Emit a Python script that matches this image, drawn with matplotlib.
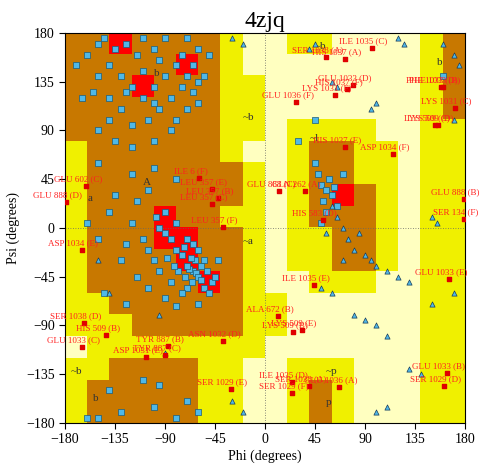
import matplotlib
matplotlib.use("Agg")
import matplotlib.pyplot as plt
import numpy as np
from matplotlib.colors import ListedColormap

# Region map: 20-degree cells, rows from psi=180 down to -180, cols phi -180..180
region_rows = [
    "BBRBBBBYPPYYPPPPYB",
    "BBBBBRBYPPPPPPPPYB",
    "BBBRBBBYYPPPPPPPYB",
    "BBBBBBBYYPPPPPPPYB",
    "BBBBBBBYYPYYYYPPYY",
    "YBBBBBBYPPYBBYYPYY",
    "YBBBBBBBYPYBBYYPYY",
    "YBBBBBBBYPYBRBYPYY",
    "YBBBRBBYYPYBBBYPYY",
    "YBBBRRBBYPYYBBYPYY",
    "YBBBBRBBYPYYBBYPYY",
    "YBBBBBRBYPPYYYPPYY",
    "YYBBBBBBYYPPPPPPYY",
    "YYYBBBBBYYPPPPPPYY",
    "PYYYYYYYYPPPPPPPYY",
    "YYBBBBYYPPYYYPPPYY",
    "YBBBBBYYPPYBYPPPYY",
    "YBBBBBYYPPYBYPPPYY",
]
region_codes = {"P": 0, "Y": 1, "B": 2, "R": 3}
region_colors = ["#FFFFC0", "#F0F000", "#C87800", "#FF0000"]

sq_phi = [-65,-62,-60,-68,-70,-58,-63,-75,-80,-85,-90,-95,-72,-66,-55,-50,-78,-82,-88,-60,-55,-52,-48,-70,-75,-85,-95,-100,-105,-110,-98,-90,-80,-70,-65,-58,-67,-73,-120,-125,-130,-115,-105,-90,-80,-60,-45,-42,-140,-135,-115,-105,-120,-100,-80,-150,-145,-150,-160,-125,
          -120,-130,-140,-110,-100,-90,-80,-70,-75,-65,-60,-85,-95,-105,-115,-125,-135,-145,-150,-155,-160,-100,-90,-70,-60,-120,-130,-140,-150,-80,-70,-65,-140,-110,-95,-75,-85,-100,-120,-60,-55,-50,-150,-170,-165,-135,-110,-125,-100,
          -130,-100,-80,-140,-150,-60,-70,-95,-110,-160,
          50,55,60,52,58,48,62,65,55,50,45,70,30,160,45]
sq_psi = [-40,-42,-45,-38,-35,-48,-30,-25,-20,-10,-5,0,-45,-50,-55,-60,-40,-35,-28,-20,-30,-40,-50,-55,-60,-50,-40,-30,-20,-10,10,15,5,-10,-15,-35,-28,-18,5,-15,-30,-45,-55,-65,-72,-70,-45,-30,15,30,25,35,50,55,45,60,-60,-10,5,-70,
          130,140,150,120,130,140,150,140,160,150,135,120,110,100,160,170,165,175,140,125,160,165,175,175,165,95,110,100,90,100,110,125,120,145,155,130,90,80,75,115,140,160,170,150,120,80,175,125,115,
          -170,-165,-175,-150,-175,-170,-160,-145,-140,-175,
          40,35,30,25,45,50,38,20,15,5,60,50,80,140,100]
tri_phi = [60,65,70,75,80,55,90,95,100,85,110,120,130,70,150,155,120,125,160,170,175,95,100,40,45,-95,-90,-150,-140,80,90,100,110,50,60,150,170,130,140,-20,-30,100,110,-30,-20,65,60,170]
tri_psi = [20,10,0,-10,-20,-5,-25,-30,-35,-5,-40,-45,-50,-30,10,5,175,170,170,160,150,110,115,165,170,-80,-115,-30,-60,-80,-85,-90,-100,-55,-60,-70,-60,-130,-135,-170,-160,-170,-165,175,170,130,135,100]

out_labels = ["ILE 1035 (C)","SER 1038 (A)","HIS 1037 (A)","GLU 1033 (D)","HIS 1037 (F)","LYS 1031 (F)","GLU 1036 (F)",
              "PHE 1033 (D)","PHE 1033 (B)","LYS 1031 (C)","LYS 509 (C)","LYS 509 (D)","HIS 1037 (E)","ASP 1034 (F)",
              "GLU 888 (B)","SER 134 (F)","HIS 583 (D)","GLN 262 (A)","GLU 888 (C)","GLU 602 (C)","GLU 888 (D)",
              "ILE 6 (F)","LEU 357 (E)","LEU 357 (B)","LEU 357 (C)","LEU 357 (F)","ASP 1034 (E)","ILE 1035 (E)",
              "ALA 672 (B)","LYS 509 (E)","LYS 509 (B)","SER 1038 (D)","HIS 509 (B)","GLU 1033 (C)","ASN 1032 (D)",
              "TYR 887 (B)","TYR 887 (C)","ASP 1031 (E)","SER 1029 (E)","ILE 1035 (D)","SER 1029 (F)","SER 1038 (A)",
              "GLU 1036 (A)","GLU 1033 (E)","GLU 1033 (B)","SER 1029 (D)"]
out_phi = [96,55,72,79,74,63,28,158,160,171,153,156,72,115,179,179,52,36,13,-161,-179,-59,-48,-42,-48,-38,-165,44,
           12,33,25,-163,-143,-165,-38,-87,-90,-107,-31,24,24,40,67,166,164,161]
out_psi = [166,158,156,132,128,123,116,130,130,111,95,95,75,68,27,8,7,34,34,39,24,46,36,28,22,1,-20,-53,
           -81,-94,-96,-88,-99,-110,-104,-109,-117,-119,-149,-142,-152,-146,-147,-47,-134,-146]

region_letters = [("~b", 45, 165), ("b", 155, 150), ("~b", -20, 100), ("~l", 40, 80), ("a", -160, 25), ("~a", -20, -15),
                  ("~b", -175, -135), ("b", -155, -160), ("~p", 55, -135), ("p", 55, -163), ("b", -100, 140), ("A", -110, 40)]

ticks = [-180, -135, -90, -45, 0, 45, 90, 135, 180]

plt.rcParams['font.family'] = ['Liberation Serif', 'DejaVu Serif']
fig = plt.figure(figsize=(5, 4.7), dpi=100)
ax = fig.add_axes([0.13, 0.1, 0.80, 0.83])

grid = np.array([[region_codes[c] for c in row] for row in region_rows])
ax.imshow(grid, extent=(-180, 180, -180, 180), cmap=ListedColormap(region_colors),
          vmin=-0.5, vmax=3.5, interpolation='nearest', aspect='auto', zorder=0)

ax.axhline(0, color='#666666', ls=(0, (1, 2)), lw=0.6, zorder=1)
ax.axvline(0, color='#666666', ls=(0, (1, 2)), lw=0.6, zorder=1)

for t, x, y in region_letters:
    ax.text(x, y, t, fontsize=8, color='#333333', zorder=1.5)

ax.scatter(sq_phi, sq_psi, marker='s', s=20, c='#4FB8E8', edgecolors='#1A5C7A', linewidths=0.5, zorder=2)
ax.scatter(tri_phi, tri_psi, marker='^', s=14, c='#4FB8E8', edgecolors='#1A3C5A', linewidths=0.5, zorder=2)
ax.scatter(out_phi, out_psi, marker='s', s=12, c='#E00000', edgecolors='#E00000', zorder=3)
for lab, x, y in zip(out_labels, out_phi, out_psi):
    ax.annotate(lab, (x, y), xytext=(-6, 2), textcoords='offset points', ha='center', va='bottom',
                fontsize=6.5, color='#FF2020', zorder=4)

ax.set_xlim(-180, 180)
ax.set_ylim(-180, 180)
ax.set_xticks(ticks)
ax.set_yticks(ticks)
ax.tick_params(labelsize=10, direction='out', length=4)
ax.set_xlabel("Phi (degrees)", fontsize=10, labelpad=2)
ax.set_ylabel("Psi (degrees)", fontsize=10)
ax.set_title("4zjq", fontsize=17, pad=4)
fig.savefig("out.png", dpi=100)
